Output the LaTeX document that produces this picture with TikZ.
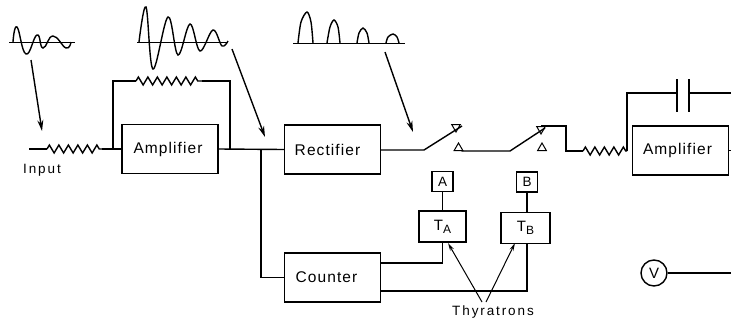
\documentclass[tikz,border=0pt]{standalone}
\usepackage{fontspec}
\setmainfont[LetterSpace=7]{Liberation Sans}
\newfontfamily\spaced[LetterSpace=14]{Liberation Sans}
\usetikzlibrary{arrows.meta,decorations.pathmorphing,shapes.geometric}

\begin{document}
\begin{tikzpicture}[x=1pt, y=-1pt, >=stealth, line width=1.4pt,
  block/.style={rectangle, draw, minimum width=96pt, minimum height=49pt, inner sep=0pt, font=\fontsize{15.5}{18}\selectfont},
  small/.style={rectangle, draw, minimum width=47pt, minimum height=31pt, inner sep=0pt, font=\fontsize{15}{18}\selectfont},
  lamp/.style={rectangle, draw, minimum width=21pt, minimum height=20pt, inner sep=0pt, font=\fontsize{13.5}{16}\selectfont},
  contact/.style={regular polygon, regular polygon sides=3, draw, inner sep=0pt, minimum size=10pt, line width=1pt},
  label/.style={inner sep=0pt, font=\spaced\fontsize{13.5}{16}\selectfont},
  res/.style={decorate, decoration={zigzag, segment length=9.5pt, amplitude=4pt}},
  pointer/.style={-{Stealth[length=11pt,width=6pt]}, line width=1.4pt},
  thin pointer/.style={-{Stealth[length=8pt,width=4pt]}, line width=1pt},
  wave/.style={line width=1.4pt, smooth, tension=.8}]
  \useasboundingbox (0,0) rectangle (731,327);

  % blocks
  \node[block] (amp1) at (170,149) {\hspace*{-4pt}Amplifier};
  \node[block] (rect) at (332.5,149.5) {\hspace*{-10pt}Rectifier};
  \node[block] (count) at (332.5,277.5) {\hspace*{-12pt}Counter};
  \node[block] (amp2) at (680.5,150.5) {\hspace*{-6pt}Amplifier};
  \node[small] (tA) at (442.5,226.5) {T\raisebox{-3pt}{\fontsize{12}{14}\selectfont A}};
  \node[small, minimum width=49pt] (tB) at (525.5,228) {T\raisebox{-3pt}{\fontsize{12}{14}\selectfont B}};
  \node[lamp] (lampA) at (442.5,181.5) {A};
  \node[lamp] (lampB) at (527,182) {B};
  \node[circle, draw, minimum size=26pt, inner sep=0pt, font=\fontsize{15}{18}\selectfont] (volt) at (654,273) {V};
  \node[label] (input) at (42,170) {Input};
  \node[label] (thyr) at (493,312) {Thyratrons};

  % free ends and corners
  \coordinate (in) at (29,149);
  \coordinate (r1a) at (47,149);
  \coordinate (r1b) at (102,149);
  \coordinate (fbL) at (113,149);
  \coordinate (fbR) at (230,149);
  \coordinate (fbTL) at (113,81);
  \coordinate (r2a) at (136,81);
  \coordinate (r2b) at (202,81);
  \coordinate (fbTR) at (230,81);
  \coordinate (tee) at (261,149);
  \coordinate (hinge1) at (424,150);
  \coordinate (tip1) at (462,126);
  \coordinate (hinge2) at (510,151);
  \coordinate (tip2) at (545,128);
  \coordinate (bend) at (566,126);
  \coordinate (r3a) at (583,151);
  \coordinate (r3b) at (627,151);
  \coordinate (capT) at (627,93);
  \coordinate (capA) at (677,93);
  \coordinate (capB) at (689,93);
  \coordinate (capEnd) at (731,93);
  \coordinate (outEnd) at (731,150.5);
  \coordinate (voltEnd) at (731,273);

  % contacts
  \node[contact, shape border rotate=180] (c1up) at (456,127) {};
  \node[contact] (c1low) at (458.5,148) {};
  \node[contact, shape border rotate=180] (c2up) at (541,129) {};
  \node[contact] (c2low) at (542,148) {};

  % wiring
  \draw (in) -- (r1a);
  \draw[res] (r1a) -- (r1b);
  \draw (r1b) -- (amp1.west);
  \draw (fbL) -- (fbTL) -- (r2a);
  \draw[res] (r2a) -- (r2b);
  \draw (r2b) -- (fbTR) -- (fbR);
  \draw (amp1.east) -- (rect.west);
  \draw (tee) |- (count.west);
  \draw (rect.east |- hinge1) -- (hinge1) -- (tip1);
  \draw (c1low.south east) -- (hinge2 -| c1low.south east) -- (hinge2) -- (tip2);
  \draw (c2up.north) -- (c2up.north -| bend) |- (r3a);
  \draw[res] (r3a) -- (r3b);
  \draw (r3b) -- (capT) -- (capA);
  \draw (capA |- 0,79) -- (capA |- 0,112);
  \draw (capB |- 0,79) -- (capB |- 0,112);
  \draw (capB) -- (capEnd);
  \draw (amp2.east) -- (outEnd);
  \draw (volt) -- (voltEnd);
  \draw (lampA) -- (tA);
  \draw (lampB.south) -- (lampB.south |- tB.north);
  \draw (count.east |- 0,263) -| (tA.south);
  \draw (count.east |- 0,291) -| (lampB.south |- tB.south);

  % arrows
  \coordinate (p1a) at (31,60);
  \coordinate (p1b) at (42,131);
  \coordinate (p2a) at (232,49);
  \coordinate (p2b) at (265,137);
  \coordinate (p3a) at (385,52);
  \coordinate (p3b) at (413,132);
  \coordinate (p4a) at (482,302);
  \coordinate (p4b) at (448,243);
  \coordinate (p5a) at (486,302);
  \coordinate (p5b) at (515,243);
  \draw[pointer] (p1a) -- (p1b);
  \draw[pointer] (p2a) -- (p2b);
  \draw[pointer] (p3a) -- (p3b);
  \draw[thin pointer] (p4a) -- (p4b);
  \draw[thin pointer] (p5a) -- (p5b);

  % waveforms
  \draw[line width=1pt] (9,42) -- (75,42);
  \draw[wave] plot coordinates {(13,42) (17,27) (26,54) (37,35) (43,48) (53,36) (66,48) (71,42)};
  \draw[line width=1pt] (137,42) -- (228,42);
  \draw[wave, tension=.6] plot coordinates {(139,42) (146,7) (153,69) (168,17) (178,55) (190,24) (200,51) (213,30) (222,46) (228,41)};
  \draw[line width=1pt] (293,43) -- (405,43);
  \draw[wave, tension=.5] plot coordinates {(298,43) (301,22) (307,12) (311,22) (313,43)};
  \draw[wave, tension=.5] plot coordinates {(327,43) (330,27) (334,20) (338,27) (340,43)};
  \draw[wave, tension=.5] plot coordinates {(357,43) (359,33) (363,28) (367,33) (369,43)};
  \draw[wave, tension=.5] plot coordinates {(386,43) (388,37) (393,34) (397,37) (399,43)};
\end{tikzpicture}
\end{document}
